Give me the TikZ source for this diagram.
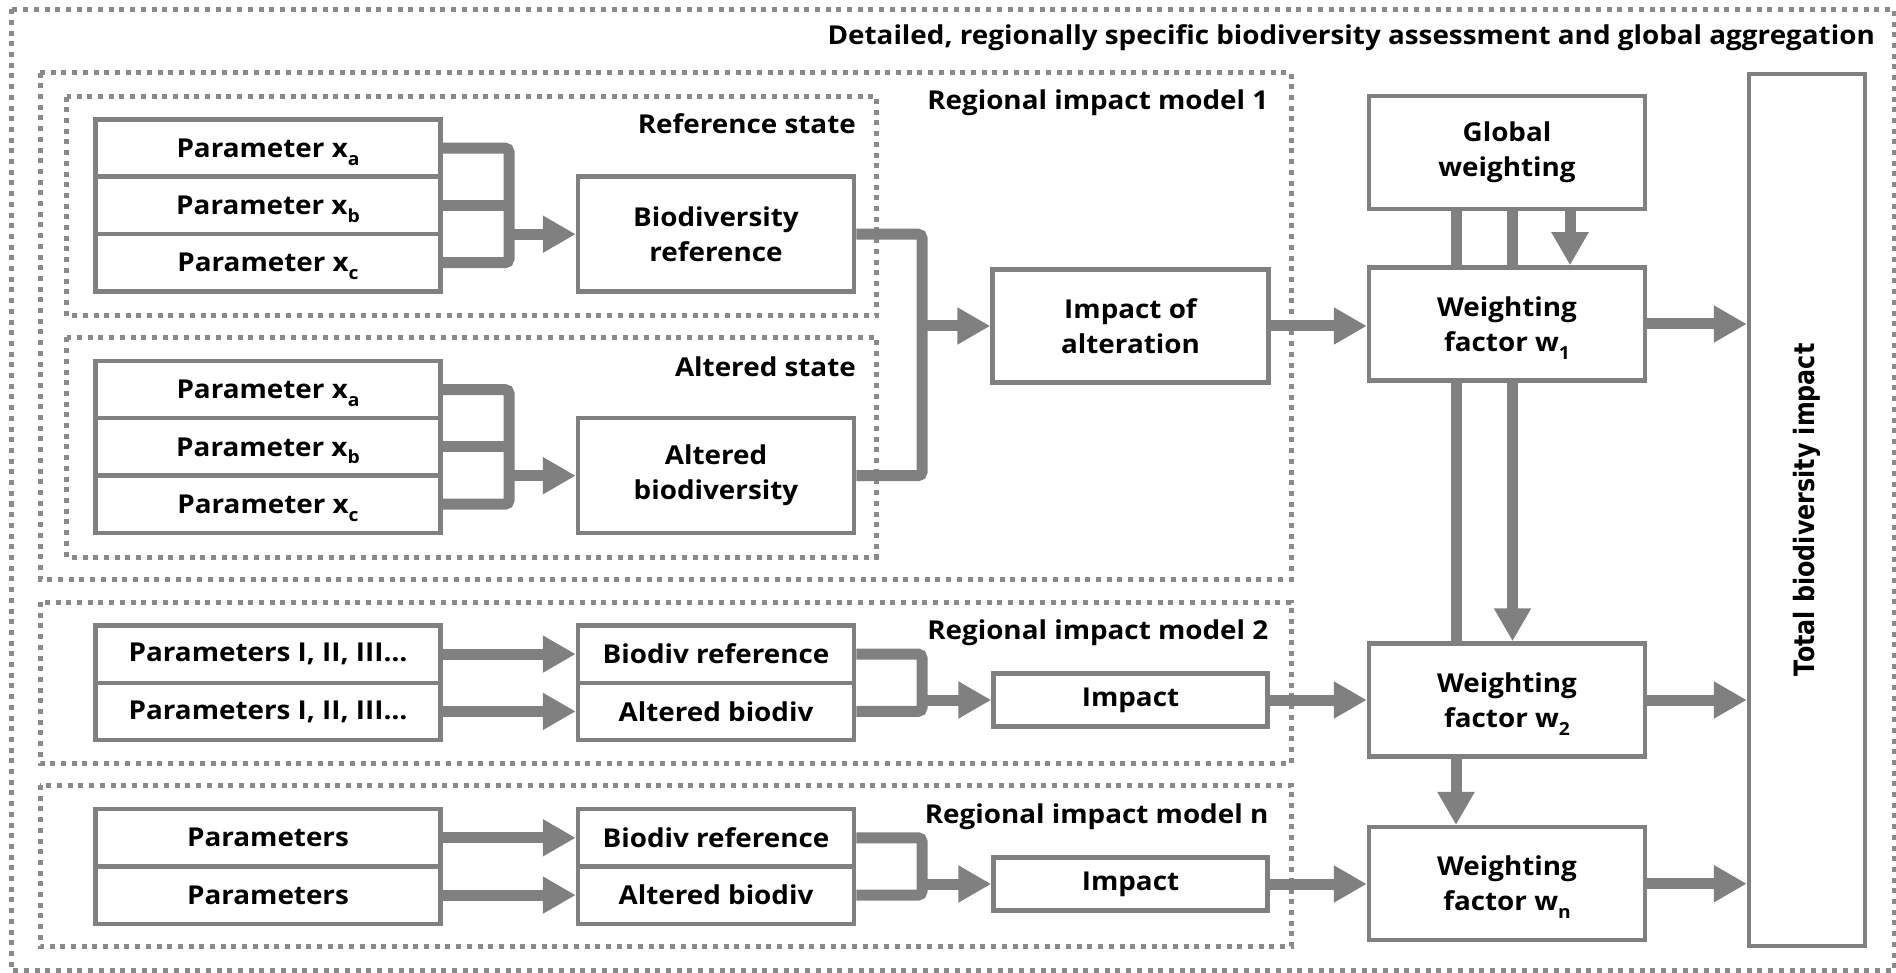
\documentclass[tikz,border=0pt]{standalone}
\usepackage{fontspec}
\setmainfont{Open Sans}[FakeStretch=1.07]
\newfontfamily\totfont{DejaVu Sans}[FakeStretch=0.85]
\usetikzlibrary{arrows.meta}
\definecolor{gr}{HTML}{808080}
\definecolor{dgr}{HTML}{8A8A8A}
\newcommand\mtext{\fontsize{26}{35}\selectfont\bfseries}
\newcommand\subsc[1]{\raisebox{-0.3em}[0pt][0pt]{\fontsize{18}{18}\selectfont #1}}
\tikzset{
  box/.style={draw=gr, line width=4.5pt, fill=white, inner sep=0pt, align=center, font=\mtext},
  pbox/.style={box, minimum width=344.7pt, minimum height=57.3pt},
  bbox/.style={box, minimum width=276pt, minimum height=115pt},
  sbox/.style={box, minimum width=276pt, minimum height=57.3pt},
  wbox/.style={box, minimum width=276pt, minimum height=113pt},
  ibox/.style={box, minimum width=274pt, minimum height=53pt},
  conn/.style={draw=gr, line width=11pt, rounded corners=4pt},
  arr/.style={conn, -{Triangle[length=33pt,width=35pt]}},
  grp/.style={draw=dgr, line width=5pt, dash pattern=on 5pt off 5.7pt},
  lbl/.style={anchor=base east, inner sep=0pt, font=\mtext},
}
\begin{document}
\begin{tikzpicture}[x=1pt,y=-1pt]
\useasboundingbox (0,0) rectangle (1896,973);
% group frames
\draw[grp] (11.7,9.3) rectangle (1894,970.7);
\draw[grp] (40,72.7) rectangle (1291,579);
\draw[grp] (66.7,96.7) rectangle (876.7,316);
\draw[grp] (66.7,337.5) rectangle (876.7,557);
\draw[grp] (40,602) rectangle (1291,763);
\draw[grp] (40,785) rectangle (1291,946.7);
% labels
\node[lbl] (title) at (1875,45) {Detailed, regionally specific biodiversity assessment and global aggregation};
\node[lbl] (l1) at (1268.5,110) {Regional impact model 1};
\node[lbl] (lref) at (856,133.5) {Reference state};
\node[lbl] (lalt) at (856,376.5) {Altered state};
\node[lbl] (l2) at (1268.5,639.5) {Regional impact model 2};
\node[lbl] (ln) at (1268.5,823.5) {Regional impact model n};
% coordinates for buses and vertical lines
\coordinate (bx1) at (509,0);
\coordinate (bx2) at (922,0);
\coordinate (xL) at (1456,0);
\coordinate (xM) at (1512.5,0);
\coordinate (xR) at (1570,0);
% region 1, reference
\node[pbox] (pa1) at (268,148.1) {Parameter x\subsc{a}};
\node[pbox] (pb1) at (268,205.4) {Parameter x\subsc{b}};
\node[pbox] (pc1) at (268,262.7) {Parameter x\subsc{c}};
\node[bbox] (bref) at (716,234.2) {Biodiversity\\reference};
% region 1, altered
\node[pbox] (pa2) at (268,389.6) {Parameter x\subsc{a}};
\node[pbox] (pb2) at (268,446.9) {Parameter x\subsc{b}};
\node[pbox] (pc2) at (268,504.2) {Parameter x\subsc{c}};
\node[bbox] (balt) at (716,475.7) {Altered\\biodiversity};
\node[wbox] (imp1) at (1130.5,326) {Impact of\\alteration};
% region 2
\node[pbox] (p21) at (268,654.1) {Parameters I, II, III…};
\node[pbox] (p22) at (268,711.4) {Parameters I, II, III…};
\node[sbox] (b21) at (716,654.1) {Biodiv reference};
\node[sbox] (b22) at (716,711.4) {Altered biodiv};
\node[ibox] (imp2) at (1130.5,700) {Impact};
% region n
\node[pbox] (pn1) at (268,837.8) {Parameters};
\node[pbox] (pn2) at (268,895.1) {Parameters};
\node[sbox] (bn1) at (716,837.8) {Biodiv reference};
\node[sbox] (bn2) at (716,895.1) {Altered biodiv};
\node[ibox] (impn) at (1130.5,884) {Impact};
% weighting
\node[wbox] (gw) at (1507,152.5) {Global\\weighting};
\node[wbox] (w1) at (1507,324) {Weighting\\factor w\subsc{1}};
\node[wbox] (w2) at (1507,700) {Weighting\\factor w\subsc{2}};
\node[wbox] (wn) at (1507,883.7) {Weighting\\factor w\subsc{n}};
\node[box, minimum width=116pt, minimum height=872pt] (tot) at (1807,509.8)
  {\rotatebox{90}{\totfont\bfseries\fontsize{28}{30}\selectfont Total biodiversity impact}};
% connectors region 1
\draw[conn] (pa1.east) -- (pa1.east -| bx1) -- (pc1.east -| bx1) -- (pc1.east);
\draw[conn] (pb1.east) -- (pb1.east -| bx1);
\draw[arr] (bref.west -| bx1) -- (bref.west);
\draw[conn] (pa2.east) -- (pa2.east -| bx1) -- (pc2.east -| bx1) -- (pc2.east);
\draw[conn] (pb2.east) -- (pb2.east -| bx1);
\draw[arr] (balt.west -| bx1) -- (balt.west);
\draw[conn] (bref.east) -- (bref.east -| bx2) -- (balt.east -| bx2) -- (balt.east);
\draw[arr] (imp1.west -| bx2) -- (imp1.west);
% connectors region 2
\draw[arr] (p21.east) -- (b21.west);
\draw[arr] (p22.east) -- (b22.west);
\draw[conn] (b21.east) -- (b21.east -| bx2) -- (b22.east -| bx2) -- (b22.east);
\draw[arr] (imp2.west -| bx2) -- (imp2.west);
% connectors region n
\draw[arr] (pn1.east) -- (bn1.west);
\draw[arr] (pn2.east) -- (bn2.west);
\draw[conn] (bn1.east) -- (bn1.east -| bx2) -- (bn2.east -| bx2) -- (bn2.east);
\draw[arr] (impn.west -| bx2) -- (impn.west);
% impacts to weighting
\draw[arr] (imp1.east) -- (imp1.east -| w1.west);
\draw[arr] (imp2.east) -- (imp2.east -| w2.west);
\draw[arr] (impn.east) -- (impn.east -| wn.west);
% weighting to total
\draw[arr] (w1.east) -- (w1.east -| tot.west);
\draw[arr] (w2.east) -- (w2.east -| tot.west);
\draw[arr] (wn.east) -- (wn.east -| tot.west);
% global weighting distribution
\draw[conn] (gw.south -| xL) -- (w1.north -| xL);
\draw[conn] (gw.south -| xM) -- (w1.north -| xM);
\draw[arr] (gw.south -| xR) -- (w1.north -| xR);
\draw[conn] (w1.south -| xL) -- (w2.north -| xL);
\draw[arr] (w1.south -| xM) -- (w2.north -| xM);
\draw[arr] (w2.south -| xL) -- (wn.north -| xL);
\end{tikzpicture}
\end{document}
